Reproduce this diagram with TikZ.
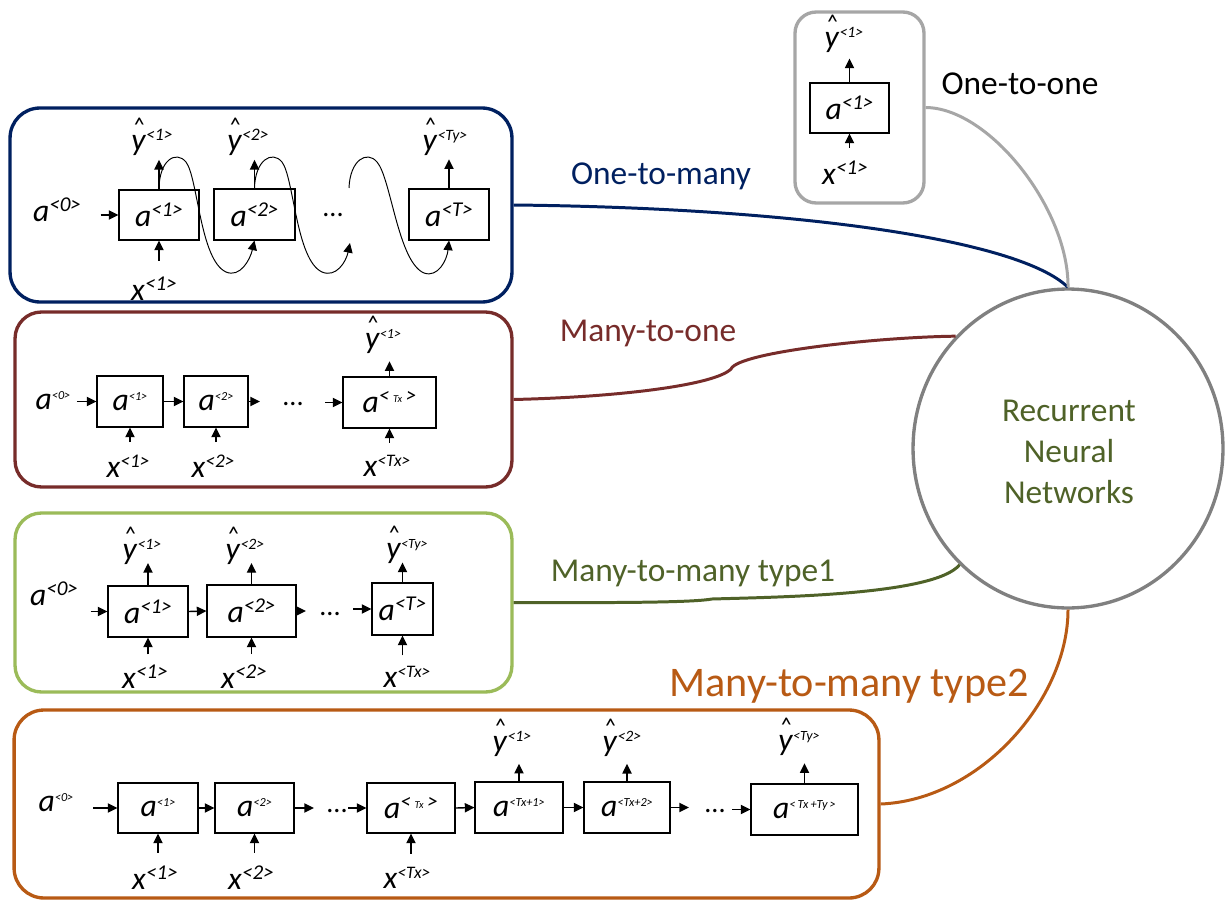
\documentclass[tikz,border=0pt]{standalone}
\usepackage{fontspec}
\setmainfont{Carlito}
\usetikzlibrary{arrows.meta,shapes.geometric,calc}

\definecolor{navyc}{HTML}{002060}
\definecolor{maroonc}{HTML}{772C2A}
\definecolor{leafc}{HTML}{9BBB59}
\definecolor{olivec}{HTML}{4F6228}
\definecolor{rustc}{HTML}{B85A14}
\definecolor{boxgray}{HTML}{A6A6A6}
\definecolor{ringgray}{HTML}{808080}

% letter with a bracketed superscript: base, superscript text, superscript size
\newcommand{\sv}[3]{\textit{#1}\raisebox{0.32em}{\fontsize{#3}{#3}\selectfont\textit{<#2>}}}
% y with a detached hat
\newcommand{\yh}{\ooalign{\textit{y}\cr\hidewidth\raisebox{0.54em}{\fontsize{13}{13}\selectfont\textit{\textasciicircum}}\hidewidth\cr}}
\newcommand{\svh}[2]{\yh\raisebox{0.32em}{\fontsize{#2}{#2}\selectfont\textit{<#1>}}}
\newcommand{\tx}{\,{\fontsize{6}{6}\selectfont Tx}\,}

\tikzset{
  cell/.style={draw, line width=0.6pt, minimum height=1cm, inner sep=0pt,
    font=\fontsize{18}{20}\selectfont},
  lab/.style={inner sep=1pt, font=\fontsize{18}{20}\selectfont},
  dotsl/.style={inner sep=0pt, font=\fontsize{16}{16}\selectfont},
  arr/.style={line width=0.8pt, -{Triangle[length=5.5pt,width=5.2pt]}},
  swirl/.style={line width=0.55pt, -{Triangle[length=5.5pt,width=5.2pt]}},
  panel/.style={draw=#1, line width=1.9pt, inner sep=0pt},
  wire/.style={draw=#1, line width=1.7pt},
  kind/.style={text=#1, font=\fontsize{19}{23}\selectfont, inner sep=1pt},
}

\begin{document}
\begin{tikzpicture}[x=0.02cm, y=-0.02cm]
\path[use as bounding box, fill=white] (0,0) rectangle (1229,902);

% ---------- outer panels and the central circle ----------
\node[panel=navyc, minimum width=10.04cm, minimum height=3.88cm, rounded corners=17pt] (p1) at (261,205) {};
\node[panel=maroonc, minimum width=9.94cm, minimum height=3.5cm, rounded corners=15pt] (p2) at (263.5,399.5) {};
\node[panel=leafc, minimum width=9.94cm, minimum height=3.58cm, rounded corners=15pt] (p3) at (263.5,602.5) {};
\node[panel=rustc, minimum width=17.3cm, minimum height=3.76cm, rounded corners=17pt] (p4) at (446.5,804) {};
\node[panel=boxgray, minimum width=2.58cm, minimum height=3.82cm, rounded corners=12pt] (p0) at (859.5,107.5) {};

\node[draw=ringgray, line width=1.9pt, ellipse, minimum width=6.2cm, minimum height=6.38cm,
      inner sep=0pt] (rnn) at (1068,448.5) {};
\node[kind=olivec, align=center, font=\fontsize{19}{23.2}\selectfont] (rnnt) at (1069,452)
      {Recurrent\\Neural\\Networks};

% ---------- connectors to the circle ----------
\draw[wire=navyc] (p1.east) .. controls (800,208) and (1020,240) .. (rnn.north);
\draw[wire=boxgray] (p0.east) .. controls (990,108) and (1069,210) .. (rnn.north);
\draw[wire=maroonc] (p2.east) .. controls (620,397) and (715,385) .. (731,369)
      .. controls (738,352) and (880,337) .. (rnn.135);
\draw[wire=olivec] (p3.east) .. controls (640,603) and (695,602) .. (712,599)
      .. controls (780,597) and (935,595) .. (rnn.227);
\draw[wire=rustc] (p4.east) .. controls (980,800) and (1068,700) .. (rnn.south);

\node[kind=navyc] (t1) at (661,176) {One-to-many};
\node[kind=black] (t0) at (1020,84) {One-to-one};
\node[kind=maroonc] (t2) at (648,333) {Many-to-one};
\node[kind=olivec] (t3) at (693,573) {Many-to-many type1};
\node[kind=rustc, font=\fontsize{24}{28}\selectfont] (t4) at (849,686) {Many-to-many type2};

% ---------- one-to-one ----------
\node[cell, minimum width=1.58cm] (e1) at (849.5,108) {\sv{a}{1}{12}};
\node[lab] (ey) at (844,37.5) {\svh{1}{9}};
\node[lab] (ex) at (845,173) {\sv{x}{1}{12}};
\draw[arr, shorten >=5pt] (e1.north) -- (e1.north |- ey.south);
\draw[arr, shorten <=6.5pt] (ex.north -| e1.south) -- (e1.south);

% ---------- one-to-many ----------
\node[lab] (q0) at (57,210) {\sv{a}{0}{12}};
\node[cell, minimum width=1.6cm] (q1) at (159,215) {\sv{a}{1}{12}};
\node[cell, minimum width=1.62cm, minimum height=1.02cm] (q2) at (254.5,214.5) {\sv{a}{2}{12}};
\node[dotsl] (qd) at (333,215) {...};
\node[cell, minimum width=1.6cm, minimum height=1.02cm] (qT) at (449,214.5) {\sv{a}{T}{12}};
\node[lab] (qy1) at (152,140) {\svh{1}{10}};
\node[lab] (qy2) at (248,140) {\svh{2}{10}};
\node[lab] (qyT) at (445,140) {\svh{Ty}{9}};
\node[lab] (qx1) at (154,289) {\sv{x}{1}{12}};
\coordinate (qgo) at (350,243);
\coordinate (qgi) at (349,188);

\draw[arr, shorten <=10pt] (q0.east |- q1.west) -- (q1.west);
\draw[arr, shorten >=4pt] (q1.north) -- (q1.north |- qy1.south);
\draw[arr, shorten >=4pt] (q2.north) -- (q2.north |- qy2.south);
\draw[arr, shorten >=4pt] (qT.north) -- (qT.north |- qyT.south);
\draw[arr, shorten <=8pt] (qx1.north -| q1.south) -- (q1.south);
\draw[swirl] (q1.north) .. controls (159,160) and (176,150) .. (186,162)
      .. controls (198,178) and (200,260) .. (226,272)
      .. controls (240,278) and (250,260) .. (q2.south);
\draw[swirl] (q2.north) .. controls (255,160) and (272,150) .. (282,162)
      .. controls (294,178) and (296,260) .. (322,272)
      .. controls (336,278) and (346,262) .. (qgo);
\draw[swirl] (qgi) .. controls (350,160) and (367,150) .. (377,162)
      .. controls (391,178) and (398,262) .. (424,273)
      .. controls (438,278) and (447,260) .. (qT.south);

% ---------- many-to-one ----------
\node[lab] (r0) at (53,401) {\sv{a}{0}{7}};
\node[cell, minimum width=1.32cm, minimum height=1.02cm] (r1) at (130,401.5) {\sv{a}{1}{7}};
\node[cell, minimum width=1.28cm, minimum height=1.02cm] (r2) at (216,401.5) {\sv{a}{2}{7}};
\node[dotsl] (rd) at (293,404) {...};
\node[cell, minimum width=1.86cm, minimum height=1.02cm] (rT) at (389.5,402.5) {\sv{a}{\tx}{12}};
\node[lab] (ry) at (383,339) {\svh{1}{8}};
\node[lab] (rx1) at (128,466) {\sv{x}{1}{11}};
\node[lab] (rx2) at (213,466) {\sv{x}{2}{11}};
\node[lab] (rxT) at (387,466) {\sv{x}{Tx}{10}};
\coordinate (rgo) at (260,401.5);
\coordinate (rgi) at (325,402.5);

\draw[arr, shorten <=2.5pt] (r0.east |- r1.west) -- (r1.west);
\draw[arr] (r1.east) -- (r2.west);
\draw[arr] (r2.east) -- (rgo);
\draw[arr] (rgi) -- (rT.west);
\draw[arr, shorten >=6pt] (rT.north) -- (rT.north |- ry.south);
\draw[arr, shorten <=6pt] (rx1.north -| r1.south) -- (r1.south);
\draw[arr, shorten <=6pt] (rx2.north -| r2.south) -- (r2.south);
\draw[arr, shorten <=6pt] (rxT.north -| rT.south) -- (rT.south);

% ---------- many-to-many type 1 ----------
\node[lab] (s0) at (54,594) {\sv{a}{0}{12}};
\node[cell, minimum width=1.6cm, minimum height=1.02cm] (s1) at (148,611.5) {\sv{a}{1}{12}};
\node[cell, minimum width=1.78cm, minimum height=1.04cm] (s2) at (251.5,611) {\sv{a}{2}{12}};
\node[dotsl] (sd) at (330,614) {...};
\node[cell, minimum width=1.22cm, minimum height=1.04cm] (sT) at (402.5,609) {\sv{a}{T}{12}};
\node[lab] (sy1) at (142,549) {\svh{1}{9}};
\node[lab] (sy2) at (245,549) {\svh{2}{9}};
\node[lab] (syT) at (407,549) {\svh{Ty}{8}};
\node[lab] (sx1) at (145,677) {\sv{x}{1}{12}};
\node[lab] (sx2) at (244,677) {\sv{x}{2}{12}};
\node[lab] (sxT) at (407,677) {\sv{x}{Tx}{10}};
\coordinate (sgo) at (306,611);
\coordinate (sgi) at (353,609);

\draw[arr, shorten <=6pt] (s0.east |- s1.west) -- (s1.west);
\draw[arr] (s1.east) -- (s2.west);
\draw[arr] (s2.east) -- (sgo);
\draw[arr] (sgi) -- (sT.west);
\draw[arr, shorten >=1pt] (s1.north) -- (s1.north |- sy1.south);
\draw[arr, shorten >=1pt] (s2.north) -- (s2.north |- sy2.south);
\draw[arr, shorten >=1pt] (sT.north) -- (sT.north |- syT.south);
\draw[arr, shorten <=5pt] (sx1.north -| s1.south) -- (s1.south);
\draw[arr, shorten <=5pt] (sx2.north -| s2.south) -- (s2.south);
\draw[arr, shorten <=5pt] (sxT.north -| sT.south) -- (sT.south);

% ---------- many-to-many type 2 ----------
\node[lab] (u0) at (56,803) {\sv{a}{0}{7}};
\node[cell, minimum width=1.6cm] (u1) at (158,808) {\sv{a}{1}{7}};
\node[cell, minimum width=1.58cm] (u2) at (254.5,808) {\sv{a}{2}{7}};
\node[dotsl] (ud1) at (337,811) {...};
\node[cell, minimum width=1.76cm] (u3) at (411,808) {\sv{a}{\tx}{12}};
\node[cell, minimum width=1.76cm, minimum height=1.02cm] (u4) at (519,807.5) {\sv{a}{Tx+1}{7}};
\node[cell, minimum width=1.72cm, minimum height=1.02cm] (u5) at (627,807.5) {\sv{a}{Tx+2}{7}};
\node[dotsl] (ud2) at (715,811) {...};
\node[cell, minimum width=2.14cm, minimum height=1.02cm] (u6) at (804.5,809.5) {\sv{a}{\,Tx\,+Ty\,}{7}};
\node[lab] (uy1) at (512,741) {\svh{1}{9}};
\node[lab] (uy2) at (622,741) {\svh{2}{9}};
\node[lab] (uyT) at (799,741) {\svh{Ty}{8}};
\node[lab] (ux1) at (155,878) {\sv{x}{1}{12}};
\node[lab] (ux2) at (251,878) {\sv{x}{2}{12}};
\node[lab] (uxT) at (407,878) {\sv{x}{Tx}{10}};
\coordinate (ugo1) at (314,808);
\coordinate (ugi1) at (348,808);
\coordinate (ugo2) at (689,807.5);
\coordinate (ugi2) at (732,809.5);

\draw[arr, shorten <=10pt] (u0.east |- u1.west) -- (u1.west);
\draw[arr] (u1.east) -- (u2.west);
\draw[arr] (u2.east) -- (ugo1);
\draw[arr] (ugi1) -- (u3.west);
\draw[arr] (u3.east) -- (u4.west);
\draw[arr] (u4.east) -- (u5.west);
\draw[arr] (u5.east) -- (ugo2);
\draw[arr] (ugi2) -- (u6.west);
\draw[arr, shorten >=6pt] (u4.north) -- (u4.north |- uy1.south);
\draw[arr, shorten >=6pt] (u5.north) -- (u5.north |- uy2.south);
\draw[arr, shorten >=6pt] (u6.north) -- (u6.north |- uyT.south);
\draw[arr, shorten <=6.5pt] (ux1.north -| u1.south) -- (u1.south);
\draw[arr, shorten <=6.5pt] (ux2.north -| u2.south) -- (u2.south);
\draw[arr, shorten <=6.5pt] (uxT.north -| u3.south) -- (u3.south);
\end{tikzpicture}
\end{document}
